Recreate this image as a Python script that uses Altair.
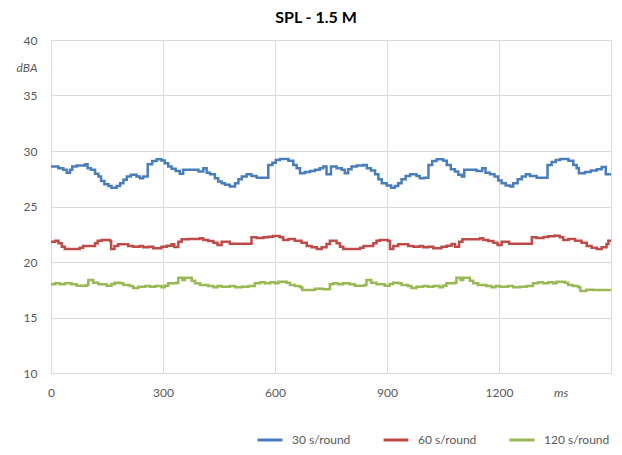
import altair as alt
import pandas as pd

series_names = ["30 s/round", "60 s/round", "120 s/round"]
series_colors = ["#4A7EBB", "#BE4B48", "#98B954"]

# step change points (ms) and levels (dBA)
blue_ms = [0, 20, 33, 42, 51, 57, 69, 91, 98, 107, 118, 127, 134, 143, 154, 162, 176, 185, 194, 203,
           214, 229, 238, 247, 259, 271, 283, 296, 305, 314, 323, 334, 345, 354, 395, 408, 417, 426,
           439, 448, 457, 466, 479, 493, 502, 511, 524, 537, 551, 582, 593, 602, 613, 636, 649, 658,
           667, 680, 694, 707, 720, 729, 738, 750, 765, 779, 787, 796, 805, 819, 837, 846, 857, 868,
           877, 886, 899, 911, 921, 930, 939, 950, 962, 979, 988, 1000, 1011, 1021, 1033, 1051, 1060,
           1071, 1082, 1091, 1100, 1107, 1140, 1155, 1164, 1176, 1188, 1198, 1207, 1218, 1230, 1238,
           1250, 1261, 1272, 1283, 1301, 1330, 1341, 1352, 1364, 1386, 1399, 1408, 1414, 1430, 1446,
           1462, 1475, 1486, 1500]
blue_db = [28.6, 28.45, 28.3, 28.05, 28.3, 28.6, 28.7, 28.8, 28.45, 28.3, 27.95, 27.7, 27.3, 27.0, 26.85,
           26.7, 26.85, 27.1, 27.4, 27.7, 27.85, 27.7, 27.55, 27.7, 28.8, 29.1, 29.25, 29.15, 28.9, 28.6,
           28.4, 28.2, 27.95, 28.3, 28.15, 28.45, 28.05, 27.9, 27.55, 27.25, 27.1, 26.95, 26.8, 27.1,
           27.45, 27.7, 27.9, 27.75, 27.6, 28.75, 28.95, 29.2, 29.28, 29.13, 28.75, 28.45, 28.0, 28.1,
           28.2, 28.3, 28.45, 28.6, 27.9, 28.6, 28.45, 28.3, 28.0, 28.35, 28.6, 28.7, 28.75, 28.45, 28.25,
           27.9, 27.45, 27.1, 26.9, 26.7, 26.85, 27.1, 27.45, 27.75, 27.9, 27.75, 27.55, 27.6, 28.75, 29.1,
           29.25, 29.13, 28.75, 28.35, 28.15, 27.85, 27.7, 28.3, 28.2, 28.45, 28.05, 27.9, 27.7, 27.35,
           27.1, 26.9, 26.8, 27.1, 27.45, 27.7, 27.9, 27.75, 27.6, 28.75, 29.0, 29.2, 29.28, 29.13, 28.75,
           28.45, 28.0, 28.1, 28.25, 28.35, 28.55, 27.9, 27.9]

red_ms = [0, 11, 20, 29, 37, 77, 86, 118, 125, 136, 158, 161, 170, 180, 207, 220, 238, 247, 261, 274,
          296, 310, 323, 330, 341, 350, 368, 399, 408, 421, 435, 446, 457, 479, 537, 551, 569, 582, 595,
          613, 622, 636, 653, 671, 685, 698, 712, 725, 738, 747, 765, 774, 783, 828, 837, 863, 872, 881,
          903, 908, 917, 930, 957, 971, 988, 997, 1011, 1024, 1046, 1060, 1073, 1082, 1093, 1102, 1149,
          1158, 1171, 1185, 1196, 1207, 1227, 1288, 1301, 1319, 1332, 1348, 1363, 1372, 1386, 1404,
          1421, 1435, 1448, 1462, 1475, 1488, 1493, 1500]
red_db = [21.83, 21.92, 21.68, 21.38, 21.17, 21.29, 21.44, 21.68, 21.92, 21.98, 21.89, 21.17, 21.44,
          21.59, 21.44, 21.38, 21.44, 21.32, 21.38, 21.23, 21.38, 21.47, 21.59, 21.35, 21.83, 22.04,
          22.07, 22.13, 21.98, 21.89, 21.74, 21.53, 21.83, 21.65, 22.22, 22.16, 22.22, 22.28, 22.34,
          22.22, 21.98, 22.07, 21.92, 21.74, 21.44, 21.32, 21.17, 21.32, 21.62, 21.92, 21.68, 21.38,
          21.17, 21.29, 21.44, 21.68, 21.92, 21.98, 21.89, 21.17, 21.44, 21.59, 21.44, 21.38, 21.44,
          21.32, 21.38, 21.23, 21.38, 21.47, 21.62, 21.38, 21.83, 22.04, 22.13, 21.98, 21.89, 21.74,
          21.53, 21.83, 21.65, 22.22, 22.16, 22.25, 22.31, 22.37, 22.22, 21.98, 22.07, 21.92, 21.74,
          21.44, 21.29, 21.17, 21.32, 21.62, 21.92, 21.92]

green_ms = [0, 11, 24, 37, 55, 69, 95, 100, 113, 127, 149, 162, 171, 185, 194, 211, 220, 234, 252, 265,
            279, 296, 305, 314, 336, 341, 352, 359, 377, 386, 399, 421, 435, 446, 457, 479, 493, 511,
            529, 546, 560, 573, 587, 600, 609, 631, 640, 653, 667, 673, 707, 729, 747, 756, 769, 782,
            800, 814, 840, 845, 858, 872, 894, 907, 916, 930, 939, 956, 965, 979, 997, 1010, 1024, 1041,
            1050, 1059, 1081, 1086, 1097, 1104, 1122, 1131, 1144, 1166, 1180, 1191, 1202, 1224, 1238,
            1256, 1274, 1291, 1305, 1318, 1332, 1345, 1354, 1376, 1385, 1398, 1412, 1418, 1434, 1452,
            1500]
green_db = [17.99, 18.08, 17.99, 18.08, 17.99, 17.87, 17.93, 18.38, 18.14, 17.99, 17.87, 18.02, 18.14,
            18.08, 17.93, 17.84, 17.66, 17.78, 17.84, 17.78, 17.84, 17.72, 17.87, 18.08, 18.14, 18.59,
            18.38, 18.59, 18.32, 18.08, 17.93, 17.84, 17.72, 17.84, 17.78, 17.84, 17.72, 17.78, 17.84,
            18.08, 18.17, 18.08, 18.17, 18.08, 18.23, 18.14, 17.93, 17.84, 17.72, 17.48, 17.6, 17.54,
            17.99, 18.08, 17.99, 18.08, 17.99, 17.87, 17.93, 18.38, 18.14, 17.99, 17.87, 18.02, 18.14,
            18.08, 17.93, 17.84, 17.66, 17.78, 17.84, 17.78, 17.84, 17.72, 17.87, 18.08, 18.14, 18.59,
            18.38, 18.59, 18.32, 18.08, 17.93, 17.84, 17.72, 17.84, 17.78, 17.84, 17.72, 17.78, 17.84,
            18.08, 18.17, 18.08, 18.17, 18.08, 18.23, 18.14, 17.93, 17.84, 17.72, 17.39, 17.5, 17.48,
            17.48]

y_ticks = [10, 15, 20, 25, 30, 35, 40]
y_unit_pos = 37.5
y_unit = "dBA"
x_ticks = [0, 300, 600, 900, 1200]
x_unit_pos = 1365
x_unit = "ms"

rows = []
for name, ms_list, db_list in zip(series_names, [blue_ms, red_ms, green_ms], [blue_db, red_db, green_db]):
    for m, d in zip(ms_list, db_list):
        rows.append({"series": name, "ms": m, "dBA": d})
df = pd.DataFrame(rows)

FONT = "Lato"
GRID = "#d9d9d9"
LABEL = "#595959"

x_axis = alt.Axis(
    values=x_ticks + [x_unit_pos],
    format="d",
    labelExpr=f"datum.value == {x_unit_pos} ? '{x_unit}' : datum.label",
    labelFontStyle={"condition": {"test": f"datum.value == {x_unit_pos}", "value": "italic"}, "value": "normal"},
    gridOpacity={"condition": {"test": f"datum.value == {x_unit_pos}", "value": 0}, "value": 1},
    title=None, ticks=False, domain=False, grid=True, gridColor=GRID, labelFlush=False,
    labelPadding=14, labelFont=FONT, labelFontSize=12, labelColor=LABEL,
)
y_axis = alt.Axis(
    values=y_ticks + [y_unit_pos],
    labelExpr=f"datum.value == {y_unit_pos} ? '{y_unit}' : datum.label",
    labelFontStyle={"condition": {"test": f"datum.value == {y_unit_pos}", "value": "italic"}, "value": "normal"},
    gridOpacity={"condition": {"test": f"datum.value == {y_unit_pos}", "value": 0}, "value": 1},
    title=None, ticks=False, domain=False, grid=True, gridColor=GRID, labelFlush=False,
    labelPadding=14, labelFont=FONT, labelFontSize=12, labelColor=LABEL,
)

chart = alt.Chart(df).mark_line(interpolate="step-after", strokeWidth=2.5).encode(
    x=alt.X("ms:Q", scale=alt.Scale(domain=[0, 1500], nice=False, zero=False), axis=x_axis),
    y=alt.Y("dBA:Q", scale=alt.Scale(domain=[10, 40], nice=False, zero=False), axis=y_axis),
    color=alt.Color(
        "series:N",
        scale=alt.Scale(domain=series_names, range=series_colors),
        legend=alt.Legend(
            title=None, orient="none", direction="horizontal", legendX=205, legendY=386,
            symbolType="stroke", symbolSize=625, symbolStrokeWidth=3, columnPadding=19,
            gridAlign="all",
            labelFont=FONT, labelFontSize=12, labelColor=LABEL, labelOffset=8,
        ),
    ),
    order="ms:Q",
).properties(
    width=560, height=333,
    title=alt.Title("SPL - 1.5 M", font=FONT, fontSize=16, fontWeight="bold", color="#000000",
                    anchor="middle", frame="bounds", offset=8),
    padding={"left": 43, "top": 32, "right": 3, "bottom": 74},
    autosize=alt.AutoSizeParams(type="none"),
).configure_view(stroke=GRID, strokeWidth=1)

chart.save("out.html", embed_options={"renderer": "svg", "actions": False})
